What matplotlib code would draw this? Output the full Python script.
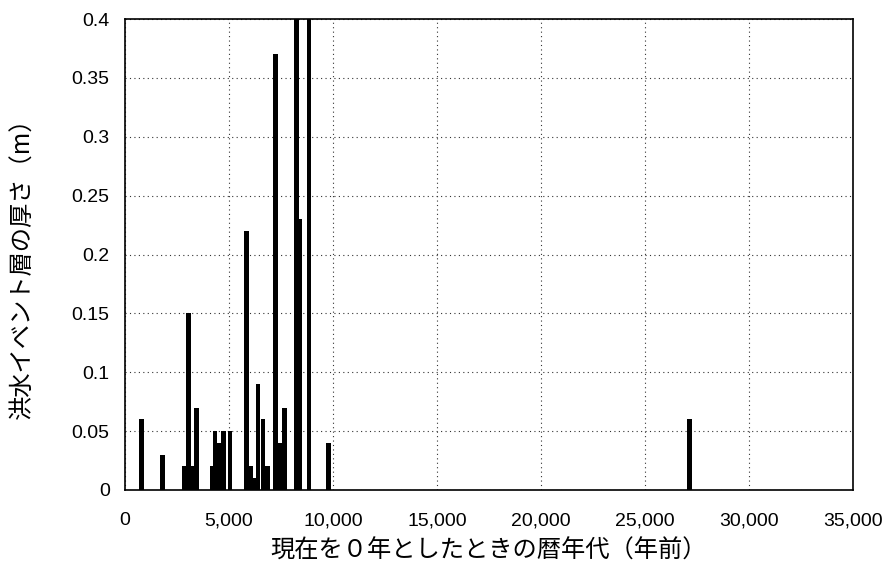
import matplotlib
matplotlib.use("Agg")
import matplotlib.pyplot as plt

plt.rcParams['font.family'] = ['Liberation Sans', 'Noto Sans CJK JP', 'DejaVu Sans']

# years before present (center of each bar) and flood layer thickness (m)
years = [790, 1810, 2870, 3045, 3240, 3430, 4180, 4330, 4500, 4725, 5050,
         5830, 6040, 6215, 6390, 6630, 6840, 7225, 7370, 7485, 7660,
         8235, 8410, 8845, 9775, 27130]
thickness = [0.06, 0.03, 0.02, 0.15, 0.02, 0.07, 0.02, 0.05, 0.04, 0.05, 0.05,
             0.22, 0.02, 0.01, 0.09, 0.06, 0.02, 0.37, 0.04, 0.04, 0.07,
             0.50, 0.23, 0.50, 0.04, 0.06]

xticks = [0, 5000, 10000, 15000, 20000, 25000, 30000, 35000]
xticklabels = ["0", "5,000", "10,000", "15,000", "20,000", "25,000", "30,000", "35,000"]
yticks = [0, 0.05, 0.1, 0.15, 0.2, 0.25, 0.3, 0.35, 0.4]
yticklabels = ["0", "0.05", "0.1", "0.15", "0.2", "0.25", "0.3", "0.35", "0.4"]

fig = plt.figure(figsize=(8.92, 5.73), dpi=100)
ax = fig.add_axes([125/892, 1 - 490/573, (853 - 125)/892, (490 - 19)/573])

ax.bar(years, thickness, width=220, color="black", linewidth=0, zorder=3)

ax.set_xlim(0, 35000)
ax.set_ylim(0, 0.4)
ax.set_xticks(xticks)
ax.set_xticklabels(xticklabels, fontsize=14)
ax.set_yticks(yticks)
ax.set_yticklabels(yticklabels, fontsize=14)
ax.tick_params(axis='y', length=0, pad=11)
ax.tick_params(axis='x', length=0, pad=16)

ax.grid(True, linestyle=(0, (1, 3)), color="#333333", linewidth=0.8, zorder=1)
for s in ax.spines.values():
    s.set_linewidth(1.2)
    s.set_color("black")

ax.set_xlabel("現在を０年としたときの暦年代（年前）", fontsize=17.5,
              family=['Noto Sans CJK JP', 'DejaVu Sans'])
ax.set_ylabel("洪水イベント層の厚さ（m）", fontsize=17.5,
              family=['Noto Sans CJK JP', 'DejaVu Sans'])
ax.xaxis.set_label_coords(0.5, -(538 - 490) / 471)
ax.yaxis.set_label_coords(-(125 - 36) / 728, (490 - 262) / 471)

fig.savefig("out.png", dpi=100)
